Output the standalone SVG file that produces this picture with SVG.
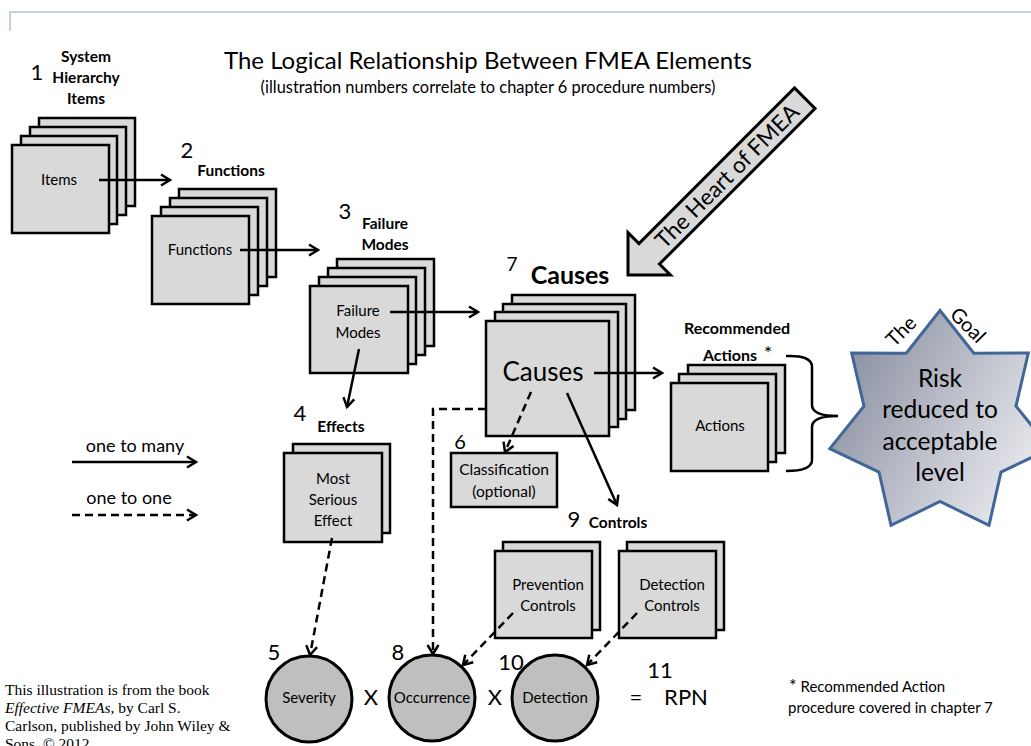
<svg xmlns="http://www.w3.org/2000/svg" width="1031" height="746" viewBox="0 0 1031 746">
<defs>
<style>
.box{fill:#d9d9d9;stroke:#000;stroke-width:2.5}
.circ{fill:#bfbfbf;stroke:#000;stroke-width:3}
.t{font-family:Lato,"Liberation Sans",sans-serif;fill:#000;text-anchor:middle}
.b{font-weight:bold}
.ln{fill:none;stroke:#000;stroke-width:2.5}
.ds{stroke-dasharray:8 5}
.ser{font-family:"Liberation Serif",serif;font-size:15.5px;fill:#000}
</style>
<marker id="arr" markerUnits="userSpaceOnUse" markerWidth="14" markerHeight="14" viewBox="0 0 14 14" refX="11" refY="7" orient="auto">
<path d="M2,1.5 L11,7 L2,12.5" fill="none" stroke="#000" stroke-width="2.5" stroke-dasharray="none"/>
</marker>
<linearGradient id="sg" x1="0" y1="0.25" x2="1" y2="0.8">
<stop offset="0" stop-color="#878d9e"/>
<stop offset="0.55" stop-color="#c2c5cf"/>
<stop offset="1" stop-color="#f0f0f2"/>
</linearGradient>
</defs>
<rect width="1031" height="746" fill="#fff"/>
<path d="M10,31 L10,12 L1031,12" fill="none" stroke="#b3c3ca" stroke-width="1.5"/>

<g id="title">
<text class="t" x="488" y="69" font-size="24">The Logical Relationship Between FMEA Elements</text>
<text class="t" x="488" y="93" font-size="16.4">(illustration numbers correlate to chapter 6 procedure numbers)</text>
</g>

<g id="items">
<text class="t" x="37" y="80" font-size="22">1</text>
<text class="t b" x="86" y="62" font-size="15.5">System</text>
<text class="t b" x="86" y="83" font-size="15.5">Hierarchy</text>
<text class="t b" x="86" y="104" font-size="15.5">Items</text>
<rect class="box" x="39" y="118" width="96" height="88"/>
<rect class="box" x="30" y="127" width="96" height="88"/>
<rect class="box" x="21" y="136" width="96" height="88"/>
<rect class="box" x="12" y="145" width="97" height="88"/>
<text class="t" x="59" y="185" font-size="15">Items</text>
</g>

<g id="functions">
<text class="t" x="187" y="158" font-size="22">2</text>
<text class="t b" x="231" y="176" font-size="15.5">Functions</text>
<rect class="box" x="179" y="189" width="97" height="88"/>
<rect class="box" x="170" y="198" width="97" height="88"/>
<rect class="box" x="161" y="207" width="97" height="88"/>
<rect class="box" x="152" y="216" width="97" height="88"/>
<text class="t" x="200" y="255" font-size="15">Functions</text>
</g>

<g id="failure-modes">
<text class="t" x="345" y="219" font-size="22">3</text>
<text class="t b" x="385" y="229" font-size="15.5">Failure</text>
<text class="t b" x="385" y="250" font-size="15.5">Modes</text>
<rect class="box" x="337" y="259" width="97" height="87"/>
<rect class="box" x="328" y="268" width="97" height="87"/>
<rect class="box" x="319" y="277" width="97" height="87"/>
<rect class="box" x="310" y="286" width="98" height="87"/>
<text class="t" x="358" y="316" font-size="15">Failure</text>
<text class="t" x="358" y="338" font-size="15">Modes</text>
</g>

<g id="causes">
<text class="t" x="512" y="271" font-size="19">7</text>
<text class="t b" x="570" y="284" font-size="25">Causes</text>
<rect class="box" x="512" y="295" width="123" height="115"/>
<rect class="box" x="503" y="304" width="123" height="115"/>
<rect class="box" x="495" y="312" width="123" height="115"/>
<rect class="box" x="486" y="321" width="123" height="115"/>
<text class="t" x="543" y="381" font-size="26">Causes</text>
</g>

<g id="effects">
<text class="t" x="300" y="421" font-size="22">4</text>
<text class="t b" x="341" y="432" font-size="15.5">Effects</text>
<rect class="box" x="293" y="444" width="97" height="89"/>
<rect class="box" x="284" y="453" width="98" height="89"/>
<text class="t" x="333" y="484" font-size="15">Most</text>
<text class="t" x="333" y="505" font-size="15">Serious</text>
<text class="t" x="333" y="526" font-size="15">Effect</text>
</g>

<g id="classification">
<text class="t" x="460" y="449" font-size="20">6</text>
<rect class="box" x="451" y="453" width="106" height="54"/>
<text class="t" x="504" y="475" font-size="15.5">Classification</text>
<text class="t" x="504" y="497" font-size="15.5">(optional)</text>
</g>

<g id="actions">
<text class="t b" x="737" y="334" font-size="16">Recommended</text>
<text class="t b" x="730" y="361" font-size="16">Actions</text>
<text class="t" x="768" y="360" font-size="20">*</text>
<rect class="box" x="688" y="365" width="97" height="88"/>
<rect class="box" x="679" y="374" width="97" height="88"/>
<rect class="box" x="671" y="383" width="97" height="88"/>
<text class="t" x="720" y="431" font-size="15">Actions</text>
</g>

<g id="controls">
<text class="t" x="574" y="527" font-size="22">9</text>
<text class="t b" x="618" y="528" font-size="15.5">Controls</text>
</g>

<g id="prevention-controls">
<rect class="box" x="503" y="542" width="97" height="88"/>
<rect class="box" x="495" y="551" width="97" height="87"/>
<text class="t" x="548" y="590" font-size="15">Prevention</text>
<text class="t" x="548" y="611" font-size="15">Controls</text>
</g>

<g id="detection-controls">
<rect class="box" x="627" y="542" width="97" height="88"/>
<rect class="box" x="619" y="551" width="97" height="87"/>
<text class="t" x="672" y="590" font-size="15">Detection</text>
<text class="t" x="672" y="611" font-size="15">Controls</text>
</g>

<g id="severity">
<text class="t" x="274" y="660" font-size="22">5</text>
<circle class="circ" cx="309" cy="699" r="43"/>
<text class="t" x="309" y="703" font-size="15">Severity</text>
</g>
<text class="t" x="371" y="705" font-size="22">X</text>
<g id="occurrence">
<text class="t" x="398" y="660" font-size="22">8</text>
<circle class="circ" cx="432" cy="698" r="43"/>
<text class="t" x="432" y="703" font-size="15">Occurrence</text>
</g>
<text class="t" x="495" y="705" font-size="22">X</text>
<g id="detection">
<text class="t" x="511" y="670" font-size="22">10</text>
<circle class="circ" cx="555" cy="698" r="43"/>
<text class="t" x="555" y="703" font-size="15">Detection</text>
</g>
<g id="rpn">
<text class="t" x="636" y="705" font-size="22">=</text>
<text class="t" x="660" y="678" font-size="22">11</text>
<text class="t" x="686" y="705" font-size="22">RPN</text>
</g>

<g id="heart-of-fmea">
<g transform="translate(628,275) rotate(-45)">
<polygon points="0,0 30,-30 30,-14.5 250,-14.5 250,14.5 30,14.5 30,30" fill="#d9d9d9" stroke="#000" stroke-width="3" stroke-linejoin="miter"/>
<text class="t" x="140" y="8" font-size="22.5">The Heart of FMEA</text>
</g>
</g>

<g id="goal">
<polygon points="940,310.5 973.8,353.2 1028.3,353 1016,406.1 1050.2,448.6 1001,472.1 989,525.3 940,501.5 891,525.3 879,472.1 829.8,448.6 864,406.1 851.7,353 906.2,353.2" fill="url(#sg)" stroke="#41679a" stroke-width="3" stroke-linejoin="miter"/>
<text class="t" x="0" y="0" font-size="20" transform="translate(906,336) rotate(-45)">The</text>
<text class="t" x="0" y="0" font-size="20" transform="translate(963,330) rotate(45)">Goal</text>
<text class="t" x="940" y="387" font-size="24.5">Risk</text>
<text class="t" x="940" y="418" font-size="24.5">reduced to</text>
<text class="t" x="940" y="450" font-size="24.5">acceptable</text>
<text class="t" x="940" y="481" font-size="24.5">level</text>
</g>

<g id="legend">
<text class="t" x="135" y="452" font-size="18">one to many</text>
<text class="t" x="129" y="504" font-size="18">one to one</text>
</g>

<g id="connectors">
<path class="ln" d="M99,180 L170,180" marker-end="url(#arr)"/>
<path class="ln" d="M240,250 L318,250" marker-end="url(#arr)"/>
<path class="ln" d="M390,312 L478,312" marker-end="url(#arr)"/>
<path class="ln" d="M359,349 L347,407" marker-end="url(#arr)"/>
<path class="ln" d="M594,373 L662,373" marker-end="url(#arr)"/>
<path class="ln ds" d="M531,392 L505,452" marker-end="url(#arr)"/>
<path class="ln" d="M567,393 L617,505" marker-end="url(#arr)"/>
<path class="ln ds" d="M486,409 L433,409 L433,654" marker-end="url(#arr)"/>
<path class="ln ds" d="M332,538 L310,655" marker-end="url(#arr)"/>
<path class="ln ds" d="M513,613 L463,665" marker-end="url(#arr)"/>
<path class="ln ds" d="M637,613 L587,665" marker-end="url(#arr)"/>
<path class="ln" d="M72,462 L196,462" marker-end="url(#arr)"/>
<path class="ln ds" d="M72,515 L196,515" marker-end="url(#arr)"/>
<path class="ln" d="M786,356 Q812,355 812,367 L812,405 Q812,416 838,416 Q812,416 812,427 L812,460 Q812,471 786,471"/>
</g>

<g id="footnote">
<text x="789" y="692" font-family="Lato,'Liberation Sans',sans-serif" font-size="15"><tspan font-size="18">*</tspan> Recommended Action</text>
<text x="788" y="713" font-family="Lato,'Liberation Sans',sans-serif" font-size="15">procedure covered in chapter 7</text>
</g>

<g id="credit">
<text class="ser" x="5" y="695">This illustration is from the book</text>
<text class="ser" x="5" y="713"><tspan font-style="italic">Effective FMEAs</tspan>, by Carl S.</text>
<text class="ser" x="5" y="731">Carlson, published by John Wiley &amp;</text>
<text class="ser" x="5" y="749">Sons. © 2012</text>
</g>
</svg>
